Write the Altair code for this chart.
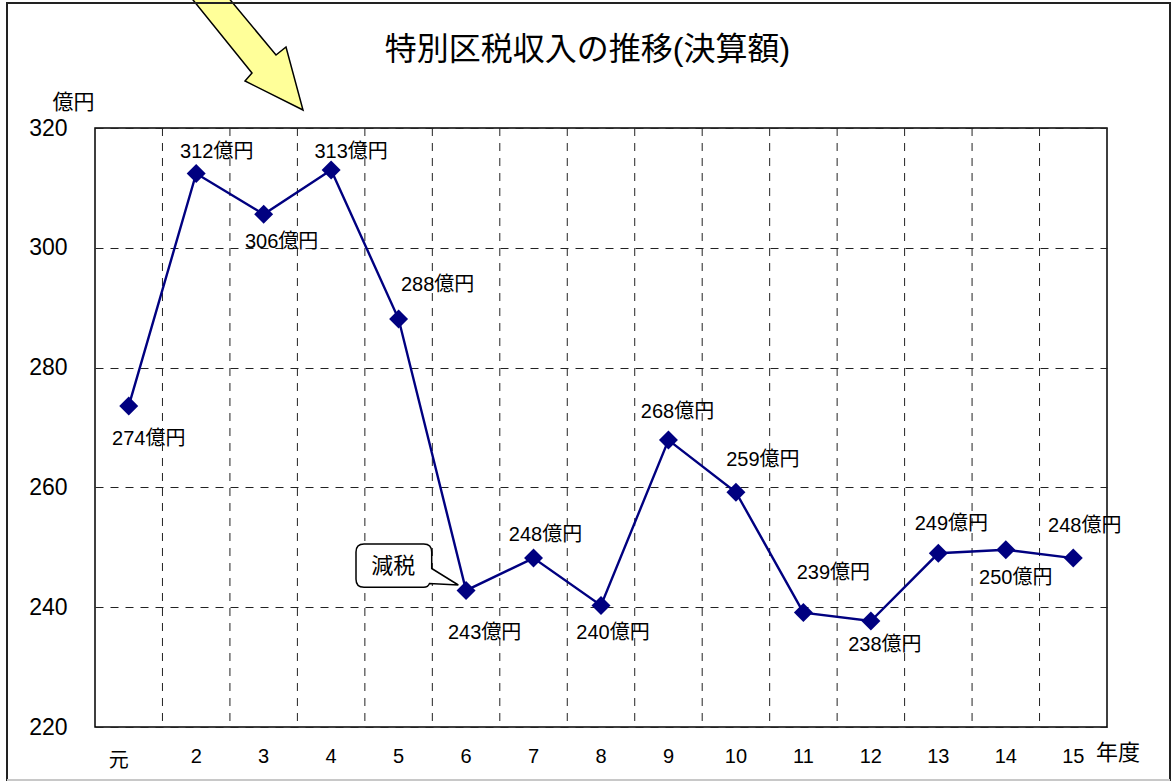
import altair as alt
import pandas as pd

# ---- data ----
years = ['元', '2', '3', '4', '5', '6', '7', '8', '9', '10', '11', '12', '13', '14', '15']
revenue = [273.6, 312.4, 305.6, 313.0, 288.1, 242.8, 248.2, 240.3, 267.9, 259.2,
           239.1, 237.7, 249.0, 249.6, 248.2]
# label placement offsets (pixels) relative to each point
label_dx = [20, 20.5, 18, 20, 39, 18.5, 12, 12, 9, 27, 30, 14, 13, 10, 11.5]
label_dy = [33, -21.6, 28, -18, -34, 43, -23, 28, -28, -32, -40, 24, -29, 28, -32]
y_ticks = [220, 240, 260, 280, 300, 320]
grid_x = [i + 0.5 for i in range(len(years) - 1)]

W, H = 1012, 599
FONT = "Liberation Sans, Noto Sans CJK JP"
NAVY = '#000080'
GRID = '#222222'

df = pd.DataFrame({
    'idx': list(range(len(years))),
    'year': years,
    'value': revenue,
    'label': [f"{round(v)}億円" for v in revenue],
})

xs = alt.Scale(domain=[-0.5, len(years) - 0.5], nice=False, zero=False)
ys = alt.Scale(domain=[220, 320], nice=False, zero=False)
X = alt.X('idx:Q', scale=xs, axis=None)
Y = alt.Y('value:Q', scale=ys)

one = pd.DataFrame({'a': [0]})

vgrid = alt.Chart(pd.DataFrame({'g': grid_x})).mark_rule(
    color=GRID, strokeWidth=1, strokeDash=[8, 7]
).encode(x=alt.X('g:Q', scale=xs, axis=None))

line = alt.Chart(df).mark_line(color=NAVY, strokeWidth=2.4).encode(
    x=X,
    y=alt.Y('value:Q', scale=ys, axis=alt.Axis(
        values=y_ticks, title=None, grid=True, gridColor=GRID, gridDash=[8, 7],
        gridWidth=1, ticks=False, tickSize=0, domain=False, labelFont=FONT,
        labelFontSize=23, labelColor='black', labelPadding=28)),
)

points = alt.Chart(df).mark_point(shape='diamond', filled=True, size=360,
                                  color=NAVY, opacity=1).encode(x=X, y=Y)

label_layers = [
    alt.Chart(df).transform_filter(f'datum.idx == {i}').mark_text(
        font=FONT, fontSize=20, color='black', baseline='middle', align='center',
        dx=label_dx[i], dy=label_dy[i]
    ).encode(x=X, y=Y, text='label:N')
    for i in range(len(years))
]

xlabels = alt.Chart(df).transform_filter('datum.idx > 0').mark_text(
    font=FONT, fontSize=20, color='black', baseline='middle', align='center'
).encode(x=X, y=alt.value(H + 29.5), text='year:N')

yuan = alt.Chart(df).transform_filter('datum.idx == 0').mark_text(
    font=FONT, fontSize=20, color='black', baseline='middle', align='center', dx=-10
).encode(x=X, y=alt.value(H + 34), text='year:N')

def note(txt, x, y, size):
    return alt.Chart(one).mark_text(font=FONT, fontSize=size, color='black',
                                    baseline='middle', align='center', text=txt
                                    ).encode(x=alt.value(x), y=alt.value(y))

title = note('特別区税収入の推移(決算額)', 492.5, -78, 32)
unit_y = note('億円', -21.5, -25, 21)
unit_x = note('年度', 1023, 625, 22)

callout_path = ("M 269,416 H 328.7 Q 336.7,416 336.7,424 V 440.5 L 363.3,457 "
                "L 334.5,455.5 Q 333,459.3 328.7,459.3 H 269 Q 261,459.3 261,451.3 "
                "V 424 Q 261,416 269,416 Z")
callout = alt.Chart(one).mark_point(shape=callout_path, size=4, filled=True,
                                    fill='white', stroke='black', strokeWidth=1.5,
                                    opacity=1).encode(x=alt.value(0), y=alt.value(0))
callout_text = note('減税', 298.3, 437.5, 22)

arrow_path = ("M 90,-138 L 157,-55 L 150,-47 L 208,-18 L 191,-81 L 181,-73 "
              "L 127,-138 Z")
arrow = alt.Chart(one).mark_point(shape=arrow_path, size=4, filled=True,
                                  fill='#FFFF99', stroke='black', strokeWidth=1.5,
                                  opacity=1).encode(x=alt.value(0), y=alt.value(0))

border = alt.Chart(one).mark_rect(fillOpacity=0, stroke='#222222', strokeWidth=2).encode(
    x=alt.value(-88), x2=alt.value(1075), y=alt.value(-125), y2=alt.value(652))
border_bottom = alt.Chart(one).mark_rule(color='#c8c8c8', strokeWidth=2).encode(
    x=alt.value(-88), x2=alt.value(1075), y=alt.value(652))

chart = alt.layer(
    vgrid, line, points, *label_layers, xlabels, yuan, title, unit_y, unit_x,
    callout, callout_text, arrow, border, border_bottom
).properties(
    width=W, height=H,
    padding={'left': 95, 'top': 128, 'right': 69, 'bottom': 56},
    autosize=alt.AutoSizeParams(type='none'),
    background='white',
).configure_view(stroke='black', strokeWidth=1.5)

chart.save("out.html", embed_options={"renderer": "svg", "actions": False})
